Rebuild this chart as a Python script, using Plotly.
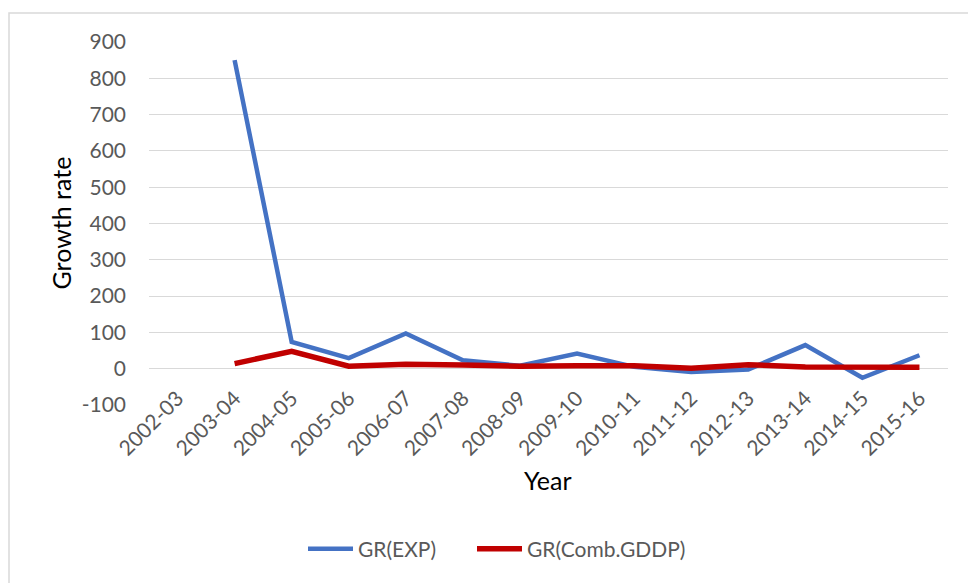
import plotly.graph_objects as go

# Fiscal years on the category axis
years = ["2002-03", "2003-04", "2004-05", "2005-06", "2006-07", "2007-08", "2008-09",
         "2009-10", "2010-11", "2011-12", "2012-13", "2013-14", "2014-15", "2015-16"]

# Growth rates (no value for the first year)
gr_exp = [None, 850, 74, 29, 97, 23, 8, 42, 5, -9, -2, 65, -25, 37]
gr_comb_gddp = [None, 14, 48, 7, 12, 10, 7, 8, 8, 1, 11, 5, 6, 4]

y_ticks = [-100, 0, 100, 200, 300, 400, 500, 600, 700, 800, 900]
y_tick_text = [str(v) for v in y_ticks]

W, H = 968, 583
ML, MR, MT, MB = 149, 20, 42, 178
PW, PH = W - ML - MR, H - MT - MB


def px_x(p):
    return (p - ML) / PW


def px_y(p):
    return (H - MB - p) / PH


FONT = "Lato, 'Open Sans', sans-serif"
TXT = "#595959"
TICK_SIZE = 21

fig = go.Figure()
fig.add_trace(go.Scatter(x=years, y=gr_exp, mode="lines", name="GR(EXP)",
                         line=dict(color="#4472C4", width=4.5), legend="legend"))
fig.add_trace(go.Scatter(x=years, y=gr_comb_gddp, mode="lines", name="GR(Comb.GDDP)",
                         line=dict(color="#C00000", width=5.5), legend="legend2"))

legend_style = dict(orientation="h", xanchor="left", yanchor="middle", y=px_y(549),
                    font=dict(size=TICK_SIZE, color=TXT), bgcolor="rgba(0,0,0,0)",
                    itemwidth=45)

fig.update_layout(
    width=W, height=H,
    margin=dict(l=ML, r=MR, t=MT, b=MB, autoexpand=False),
    paper_bgcolor="white", plot_bgcolor="white",
    font=dict(family=FONT, color=TXT, size=TICK_SIZE),
    showlegend=True,
    legend=dict(x=px_x(303), **legend_style),
    legend2=dict(x=px_x(472), **legend_style),
    xaxis=dict(type="category", categoryorder="array", categoryarray=years,
               range=[-0.5, len(years) - 0.5], tickangle=-45, showgrid=False,
               showline=False, zeroline=False, ticks="", automargin=False,
               ticklabelstandoff=-24, tickfont=dict(size=TICK_SIZE, color=TXT)),
    yaxis=dict(range=[-100, 900], tickvals=y_ticks, ticktext=y_tick_text, showgrid=True,
               gridcolor="#d9d9d9", gridwidth=1.3, zeroline=False, showline=False, ticks="",
               automargin=False, ticklabelstandoff=22,
               tickfont=dict(size=TICK_SIZE, color=TXT)),
    annotations=[
        dict(text="Growth rate", xref="paper", yref="paper", x=px_x(60), y=px_y(223.5),
             textangle=-90, showarrow=False, font=dict(size=25, color="#000000"),
             xanchor="center", yanchor="middle"),
        dict(text="Year", xref="paper", yref="paper", x=px_x(548), y=px_y(480),
             showarrow=False, font=dict(size=25, color="#000000"),
             xanchor="center", yanchor="middle"),
    ],
    shapes=[
        dict(type="rect", xref="paper", yref="paper", x0=px_x(9), x1=px_x(990),
             y0=px_y(600), y1=px_y(13), line=dict(color="#d9d9d9", width=1.5),
             fillcolor="rgba(0,0,0,0)", layer="below"),
    ],
)

fig.write_html("out.html")
